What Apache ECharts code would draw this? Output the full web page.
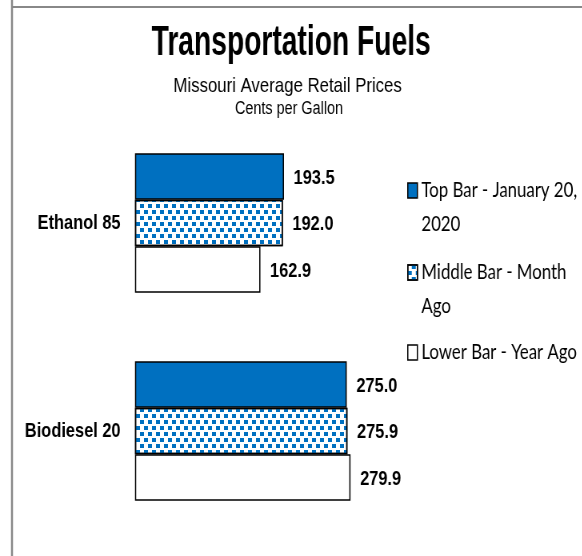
<!DOCTYPE html>
<html><head><meta charset="utf-8">
<script src="https://cdn.jsdelivr.net/npm/echarts@6/dist/echarts.min.js"></script>
<style>
html,body{margin:0;padding:0;overflow:hidden;background:#fff;width:582px;height:556px}
#chart{width:728px;height:556px;transform:scaleX(0.8);transform-origin:0 0;}
</style>
</head><body><div id="chart"></div>
<script>
const categories = ['Ethanol 85', 'Biodiesel 20'];
const seriesNames = ['Top Bar - January 20, 2020', 'Middle Bar - Month Ago', 'Lower Bar - Year Ago'];
const legendLabels = ['\nTop Bar - January 20,\n2020', '\nMiddle Bar - Month\nAgo', 'Lower Bar - Year Ago'];
const titleText = 'Transportation Fuels';
const subtitleText = 'Missouri Average Retail Prices';
const unitText = 'Cents per Gallon';
const topBar = [193.5, 275.0];
const middleBar = [192.0, 275.9];
const lowerBar = [162.9, 279.9];

const chart = echarts.init(document.getElementById('chart'), null, {renderer: 'canvas'});

const labelStyle = {
  show: true, position: 'right', distance: 12, offset: [0, 1.5],
  formatter: p => Number(p.value).toFixed(1),
  fontFamily: '"Liberation Sans", Arial, sans-serif', fontWeight: 'bold', fontSize: 20.5, color: '#000'
};
const decal = {
  symbol: 'rect', symbolSize: 1, symbolKeepAspect: false, color: '#0070C0',
  dashArrayX: [[4.5, 4.5], [0, 4.5, 4.5, 0]], dashArrayY: [4, 2], rotation: 0
};
const legendTops = [139.5, 221.5, 335.5];
const textAlignTop = {textAlign: 'center', textVerticalAlign: 'top', align: 'center', verticalAlign: 'top', fill: '#000'};

const option = {
  animation: false,
  backgroundColor: '#fff',
  legend: seriesNames.map((name, i) => ({
    data: [name], left: 509, top: legendTops[i], padding: 0, orient: 'vertical',
    itemWidth: 12, itemHeight: 15, icon: 'rect', selectedMode: false,
    formatter: () => legendLabels[i],
    itemStyle: {borderColor: '#000', borderWidth: 1.5},
    textStyle: {fontFamily: 'Lato, sans-serif', fontSize: 21, color: '#000', lineHeight: 34}
  })),
  grid: {left: 168.75, top: 119, width: 385, height: 416, outerBoundsMode: 'none', containLabel: false},
  xAxis: {type: 'value', min: 0, max: 400, show: false},
  yAxis: {
    type: 'category', data: categories, inverse: true,
    axisLine: {show: false}, axisTick: {show: false}, splitLine: {show: false},
    axisLabel: {margin: 18, fontFamily: '"Liberation Sans", Arial, sans-serif', fontWeight: 'bold', fontSize: 20.5, color: '#000'}
  },
  series: [
    {name: seriesNames[0], type: 'bar', data: topBar, barWidth: 46.5, barGap: '0%',
     itemStyle: {color: '#0070C0', borderColor: '#000', borderWidth: 1.5}, label: labelStyle},
    {name: seriesNames[1], type: 'bar', data: middleBar, barWidth: 46.5, barGap: '0%',
     itemStyle: {color: '#fff', borderColor: '#000', borderWidth: 1.5, decal: decal}, label: labelStyle},
    {name: seriesNames[2], type: 'bar', data: lowerBar, barWidth: 46.5, barGap: '0%',
     itemStyle: {color: '#fff', borderColor: '#000', borderWidth: 1.5}, label: labelStyle}
  ],
  graphic: [
    {type: 'line', silent: true, shape: {x1: 15, y1: 0, x2: 15, y2: 556}, style: {stroke: '#888', lineWidth: 2.5}},
    {type: 'line', silent: true, shape: {x1: 15, y1: 7, x2: 728, y2: 7}, style: {stroke: '#888', lineWidth: 2}},
    {type: 'text', silent: true, x: 364, y: 22.7, scaleX: 0.84,
     style: Object.assign({text: titleText, font: 'bold 42px "Liberation Sans", Arial, sans-serif'}, textAlignTop)},
    {type: 'text', silent: true, x: 359.5, y: 76,
     style: Object.assign({text: subtitleText, font: '21px "Liberation Sans", Arial, sans-serif'}, textAlignTop)},
    {type: 'text', silent: true, x: 361.3, y: 99.8,
     style: Object.assign({text: unitText, font: '18px "Liberation Sans", Arial, sans-serif'}, textAlignTop)}
  ]
};
chart.setOption(option);
</script>
</body></html>
